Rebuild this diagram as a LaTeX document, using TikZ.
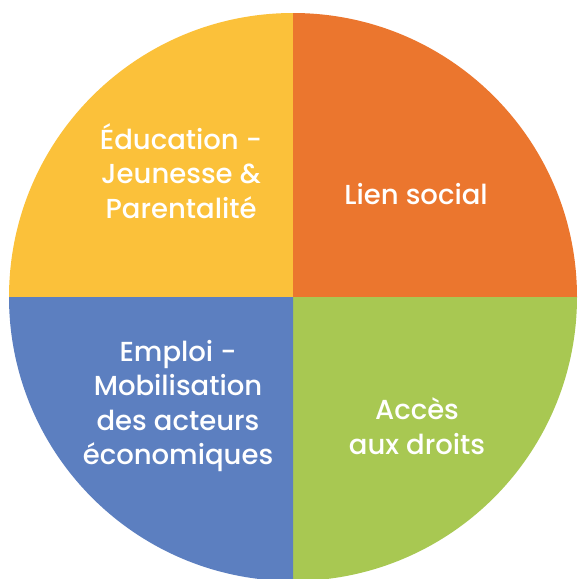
\documentclass[tikz,border=0pt]{standalone}
\usepackage{fontspec}
\setmainfont{Poppins}[BoldFont={* Medium}]
\definecolor{cyellow}{HTML}{FBC13A}
\definecolor{corange}{HTML}{EB762E}
\definecolor{cblue}{HTML}{5C7FC0}
\definecolor{cgreen}{HTML}{A8C852}
\begin{document}
\begin{tikzpicture}[x=1pt,y=1pt,
  lbl/.style={text=white,font=\fontsize{27.5}{34.5}\selectfont\bfseries,align=center,inner sep=0pt}]
\useasboundingbox (0,0) rectangle (578,-579);
\coordinate (c) at (293,-297);
\fill[cyellow] (c) -- ++(-284,0) arc[start angle=180,end angle=90,radius=284] -- cycle;
\fill[corange] (c) -- ++(0,284) arc[start angle=90,end angle=0,radius=284] -- cycle;
\fill[cgreen] (c) -- ++(284,0) arc[start angle=0,end angle=-90,radius=284] -- cycle;
\fill[cblue] (c) -- ++(0,-284) arc[start angle=-90,end angle=-180,radius=284] -- cycle;
\node[lbl] (edu) at (181,-171) {Éducation -\\Jeunesse \&\\Parentalité};
\node[lbl] (lien) at (416,-194) {Lien social};
\node[lbl] (emp) at (178,-406) {Emploi -\\Mobilisation\\des acteurs\\économiques};
\node[lbl] (acc) at (417,-426) {Accès\\aux droits};
\end{tikzpicture}
\end{document}
